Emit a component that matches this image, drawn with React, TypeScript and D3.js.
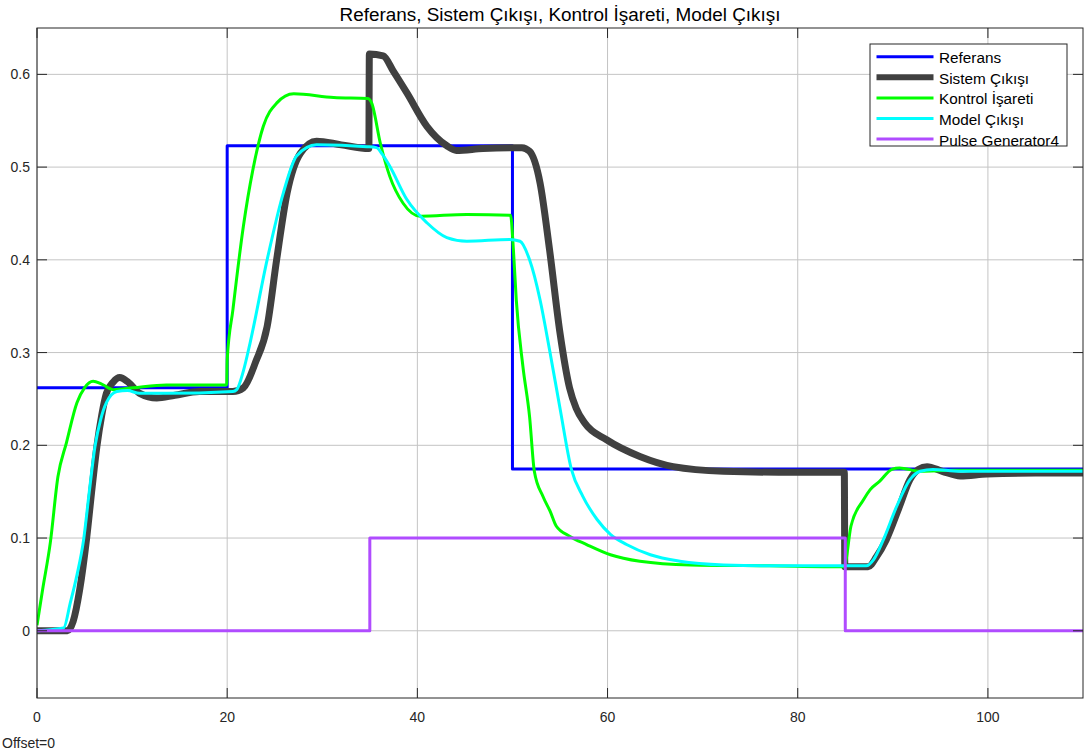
import React from "react";
import * as d3 from "d3";

type P = [number, number];

const TITLE = "Referans, Sistem Çıkışı, Kontrol İşareti, Model Çıkışı";
const X_TICKS = [0, 20, 40, 60, 80, 100];
const Y_TICKS = [0, 0.1, 0.2, 0.3, 0.4, 0.5, 0.6];
const SERIES_NAMES = ["Referans", "Sistem Çıkışı", "Kontrol İşareti", "Model Çıkışı", "Pulse Generator4"];

const referans: P[] = [
  [0, 0.262], [20, 0.262], [20, 0.523], [50, 0.523], [50, 0.1745], [110, 0.1745],
];

const sistem: P[] = [
  [0, 0], [3.2, 0], [3.8, 0.01], [4.5, 0.045], [5.2, 0.098], [5.8, 0.155], [6.3, 0.199],
  [6.8, 0.232], [7.3, 0.256], [8.0, 0.268], [8.7, 0.273], [9.6, 0.268], [10.8, 0.256],
  [12.6, 0.251], [14.5, 0.254], [17.1, 0.258], [20.6, 0.258], [21.7, 0.262],
  [23.0, 0.29], [24.2, 0.328], [25.2, 0.4], [26.3, 0.472], [27.7, 0.515],
  [29.4, 0.528], [32, 0.524], [34.9, 0.52], [34.95, 0.622], [36.4, 0.62],
  [37.5, 0.603], [38.9, 0.58], [41.0, 0.544], [43.1, 0.523], [44.1, 0.518],
  [46.9, 0.52], [51.0, 0.521], [51.8, 0.517], [52.9, 0.483], [53.9, 0.411],
  [55.0, 0.321], [56.0, 0.262], [56.7, 0.24], [57.6, 0.224], [59.9, 0.206], [63.4, 0.188],
  [66.9, 0.177], [72.2, 0.172], [78, 0.171], [84.9, 0.171],
  [84.95, 0.069], [87.4, 0.069], [88.3, 0.08], [89.3, 0.098], [90.7, 0.134],
  [91.8, 0.163], [92.7, 0.174], [93.6, 0.177], [95.2, 0.172], [97.1, 0.167],
  [99.9, 0.169], [105, 0.17], [110, 0.17],
];

const kontrol: P[] = [
  [0, 0.006], [0.6, 0.045], [1.4, 0.095], [2.2, 0.166], [3.1, 0.203], [4.2, 0.246],
  [5.0, 0.262], [5.9, 0.269], [6.8, 0.266], [8.0, 0.26], [10.1, 0.262], [13.6, 0.265],
  [19.95, 0.265], [20.0, 0.292], [20.6, 0.346], [21.7, 0.436], [22.7, 0.497],
  [23.8, 0.544], [25.2, 0.569], [27.0, 0.579], [31.2, 0.575], [34.8, 0.574],
  [35.2, 0.569], [36.1, 0.526], [37.1, 0.49], [38.5, 0.461], [40.3, 0.447],
  [45.2, 0.449], [49.8, 0.448], [50.1, 0.411], [50.4, 0.357], [51.1, 0.285],
  [51.8, 0.231], [52.3, 0.172], [53.2, 0.145], [54.0, 0.128], [54.6, 0.113],
  [56.0, 0.102], [57.8, 0.093], [60.3, 0.082], [63.4, 0.075], [68.7, 0.071],
  [77, 0.07], [84.95, 0.069], [85.1, 0.077], [85.6, 0.113], [86.9, 0.141],
  [87.6, 0.152], [88.6, 0.161], [89.9, 0.174], [90.7, 0.1755], [92.9, 0.172],
  [96.4, 0.173], [110, 0.173],
];

const model: P[] = [
  [0, 0], [2.8, 0.003], [3.5, 0.03], [4.2, 0.06], [4.9, 0.098], [5.5, 0.15],
  [6.1, 0.199], [6.7, 0.228], [7.3, 0.246], [8.4, 0.258], [9.5, 0.259],
  [10.8, 0.256], [13.6, 0.256], [20.6, 0.258], [21.0, 0.26], [21.7, 0.28],
  [22.4, 0.31], [24.2, 0.4], [25.9, 0.472], [27.3, 0.512], [29.4, 0.524],
  [34.7, 0.522], [35.7, 0.521], [36.3, 0.514], [37.1, 0.501], [38.9, 0.465],
  [41.0, 0.44], [43.1, 0.424], [45.2, 0.42], [49.7, 0.422], [50.8, 0.42],
  [51.8, 0.4], [52.9, 0.357], [53.9, 0.303], [55.0, 0.24], [56.2, 0.174],
  [57.4, 0.145], [58.9, 0.12], [60.3, 0.104], [62.0, 0.093], [64.5, 0.082],
  [67.6, 0.075], [72.2, 0.071], [78, 0.07], [85, 0.07], [87.2, 0.07], [88.0, 0.077],
  [89.0, 0.098], [90.4, 0.134], [91.8, 0.163], [92.9, 0.172], [94.2, 0.174],
  [97, 0.172], [110, 0.172],
];

const pulse: P[] = [
  [0, 0], [35, 0], [35, 0.1], [85, 0.1], [85, 0], [110, 0],
];

const SERIES: { name: string; data: P[]; color: string; width: number; smooth: boolean }[] = [
  { name: SERIES_NAMES[0], data: referans, color: "#0000ff", width: 3, smooth: false },
  { name: SERIES_NAMES[1], data: sistem, color: "#404040", width: 7, smooth: true },
  { name: SERIES_NAMES[2], data: kontrol, color: "#00ff00", width: 3, smooth: true },
  { name: SERIES_NAMES[3], data: model, color: "#00ffff", width: 3, smooth: true },
  { name: SERIES_NAMES[4], data: pulse, color: "#b04cff", width: 3, smooth: false },
];

const W = 1086;
const H = 756;
const M = { left: 37, right: 1083, top: 28, bottom: 698 };
const FONT = "'Liberation Sans', Arial, Helvetica, sans-serif";

export default function App() {
  const x = d3.scaleLinear().domain([0, 110]).range([M.left, M.right]);
  const y = d3.scaleLinear().domain([-0.0725, 0.65]).range([M.bottom, M.top]);

  const mkLine = (smooth: boolean) =>
    d3
      .line<P>()
      .x((d) => x(d[0]))
      .y((d) => y(d[1]))
      .curve(smooth ? d3.curveMonotoneX : d3.curveLinear);

  const axisColor = "#262626";
  const gridColor = "#c4c4c4";
  const tickLen = 10;

  const legend = { x: 870, y: 44, w: 197, h: 102, rowH: 20.6, first: 56.7 };

  return (
    <div>
      <style>{`html,body{margin:0;padding:0;overflow:hidden;}`}</style>
      <svg width={W} height={H} style={{ display: "block", background: "#fff" }} fontFamily={FONT}>
        <defs>
          <clipPath id="plotclip">
            <rect x={M.left} y={M.top} width={M.right - M.left} height={M.bottom - M.top} />
          </clipPath>
        </defs>
        <rect x={0} y={0} width={W} height={H} fill="#fff" />
        {X_TICKS.map((t) => (
          <line key={"gx" + t} x1={x(t)} x2={x(t)} y1={M.top} y2={M.bottom} stroke={gridColor} strokeWidth={1} />
        ))}
        {Y_TICKS.map((t) => (
          <line key={"gy" + t} x1={M.left} x2={M.right} y1={y(t)} y2={y(t)} stroke={gridColor} strokeWidth={1} />
        ))}
        <g clipPath="url(#plotclip)">
          {SERIES.map((s) => (
            <path
              key={s.name}
              d={mkLine(s.smooth)(s.data) || ""}
              fill="none"
              stroke={s.color}
              strokeWidth={s.width}
              strokeLinejoin="round"
              strokeLinecap="butt"
            />
          ))}
        </g>
        <rect x={M.left} y={M.top} width={M.right - M.left} height={M.bottom - M.top} fill="none" stroke={axisColor} strokeWidth={1} />
        {X_TICKS.map((t) => (
          <g key={"tx" + t}>
            <line x1={x(t)} x2={x(t)} y1={M.bottom} y2={M.bottom - tickLen} stroke={axisColor} />
            <line x1={x(t)} x2={x(t)} y1={M.top} y2={M.top + tickLen} stroke={axisColor} />
            <text x={x(t)} y={722} textAnchor="middle" fontSize={14} fill="#262626">
              {t}
            </text>
          </g>
        ))}
        {Y_TICKS.map((t) => (
          <g key={"ty" + t}>
            <line x1={M.left} x2={M.left + tickLen} y1={y(t)} y2={y(t)} stroke={axisColor} />
            <line x1={M.right} x2={M.right - tickLen} y1={y(t)} y2={y(t)} stroke={axisColor} />
            <text x={30} y={y(t) + 5} textAnchor="end" fontSize={14} fill="#262626">
              {t === 0 ? "0" : d3.format(".1f")(t)}
            </text>
          </g>
        ))}
        <text x={(M.left + M.right) / 2} y={20.5} textAnchor="middle" fontSize={18.9} fill="#000">
          {TITLE}
        </text>
        <text x={2} y={748} fontSize={14} fill="#262626">
          Offset=0
        </text>
        <g>
          <rect x={legend.x} y={legend.y} width={legend.w} height={legend.h} fill="#fff" stroke={axisColor} strokeWidth={1} />
          {SERIES.map((s, i) => {
            const cy = legend.first + i * legend.rowH;
            return (
              <g key={"lg" + s.name}>
                <line x1={876.5} x2={933.5} y1={cy} y2={cy} stroke={s.color} strokeWidth={s.width === 7 ? 6 : 3} />
                <text x={939} y={cy + 6.5} fontSize={15.3} fill="#000">
                  {s.name}
                </text>
              </g>
            );
          })}
        </g>
      </svg>
    </div>
  );
}
